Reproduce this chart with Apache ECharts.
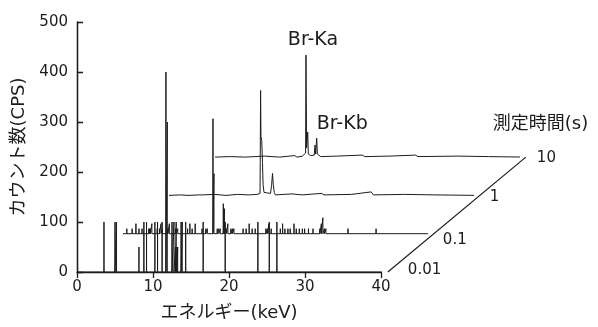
<!DOCTYPE html>
<html>
<head>
<meta charset="utf-8">
<script src="https://cdn.jsdelivr.net/npm/echarts@6/dist/echarts.min.js"></script>
<style>
  html, body { margin: 0; padding: 0; background: #fff; }
  #chart { width: 598px; height: 327px; }
</style>
</head>
<body>
<div id="chart"></div>
<script>
const FONT = '"DejaVu Sans", "Noto Sans CJK JP", sans-serif';
const INK = '#1c1c1c';

// measurement times (front to back)
const timeLabels = ['0.01', '0.1', '1', '10'];
const yTicks = [0, 100, 200, 300, 400, 500];
const xTicks = [0, 10, 20, 30, 40];
const traceEnd = 40.9; // keV, traces run a little past the 40 tick

// 0.01 s : single-count spikes [keV, cps]
const spikes001 = [
  [3.55, 100], [5.0, 100], [5.2, 100], [8.15, 50], [8.8, 100], [9.15, 100],
  [10.25, 100], [10.6, 100], [11.2, 100], [11.7, 400], [11.88, 300],
  [12.5, 100], [12.76, 100], [12.95, 50], [13.05, 100], [13.15, 50], [13.25, 50],
  [13.7, 100], [13.85, 100], [14.3, 100], [16.6, 100], [19.5, 100],
  [23.8, 100], [25.3, 100], [26.3, 100]
];

// 0.1 s : spikes [keV, cps]
const spikes01 = [
  [0.5, 10], [1.2, 10], [1.7, 20], [2.1, 10], [2.5, 10], [3.4, 10], [3.5, 10],
  [3.6, 10], [3.8, 20], [4.5, 10], [4.8, 10], [5.0, 20], [5.2, 10], [5.9, 10],
  [6.1, 20], [6.9, 10], [7.0, 10], [7.2, 10], [8.5, 10], [8.8, 20], [9.1, 10],
  [9.5, 20], [10.4, 10], [10.9, 10], [11.1, 10], [11.84, 230], [11.97, 120],
  [12.4, 10], [12.6, 10], [12.8, 10], [13.2, 60], [13.35, 50], [13.6, 10],
  [13.8, 20], [14.2, 10], [14.4, 10], [14.6, 10], [15.8, 10], [16.2, 10],
  [16.6, 20], [17.0, 10], [17.4, 10], [18.8, 10], [19.0, 10], [19.2, 20],
  [19.5, 10], [20.7, 10], [21.0, 20], [21.3, 10], [21.7, 10], [22.0, 10],
  [22.5, 20], [22.8, 10], [23.2, 10], [23.6, 10], [23.9, 10], [24.4, 10],
  [25.0, 10], [25.9, 10], [26.1, 20], [26.3, 32], [26.5, 10], [26.7, 10],
  [29.6, 10], [33.3, 10]
];

// 1 s : trace profile [keV, cps]
const profile1 = [
  [1.5, 1], [2.5, 0], [4.0, 1], [4.2, 5], [4.4, 1], [6.0, 2], [7.5, 0], [9.0, 2],
  [10.5, 1], [11.6, 2], [11.85, 6], [11.98, 4], [12.05, 210], [12.1, 118],
  [12.2, 110], [12.3, 66], [12.38, 22], [12.5, 6], [12.65, 2], [12.9, 5],
  [13.1, 2], [13.35, 4], [13.5, 20], [13.62, 44], [13.72, 22], [13.85, 6],
  [14.0, 1], [16.2, 3], [17.5, 1], [20.1, 4], [20.4, 1], [24.0, 2], [26.6, 7],
  [26.9, 1], [31.0, 2], [35.0, 1]
];

// 10 s : trace profile [keV, cps]
const profile10 = [
  [2.0, 1], [4.0, 0], [6.5, 2], [8.5, 0], [10.5, 3], [10.8, 0], [11.5, 2],
  [11.6, 6], [11.75, 3], [11.92, 8], [11.97, 204], [12.05, 18], [12.2, 50],
  [12.28, 6], [12.6, 3], [13.05, 4], [13.16, 24], [13.25, 6], [13.38, 38],
  [13.47, 6], [13.7, 4], [13.9, 1], [16.0, 2], [19.4, 4], [19.7, 1],
  [23.0, 2], [26.4, 4], [26.7, 1], [32.0, 2], [36.0, 1]
];

// pseudo-3D step between consecutive traces (px)
const stepX = 46, stepY = 38.3;
const plot = { left: 77, top: 22, width: 304, height: 250 };
const tickPx = 6;

function impulses(spikes) {
  const pts = [[0, 0]];
  spikes.slice().sort((a, b) => a[0] - b[0]).forEach(([k, h]) => {
    pts.push([k, 0], [k, h], [k, 0]);
  });
  pts.push([traceEnd, 0]);
  return pts;
}

function profile(points) {
  return [[0, 0], ...points, [traceEnd, 0]];
}

const traces = [impulses(spikes001), impulses(spikes01), profile(profile1), profile(profile10)];

// axis frame of the front plot, drawn as a marker so it always sits on top
const xSpan = xTicks[xTicks.length - 1] - xTicks[0];
const ySpan = yTicks[yTicks.length - 1] - yTicks[0];
const tickDx = tickPx * xSpan / plot.width;   // tick length in keV
const tickDy = tickPx * ySpan / plot.height;  // tick length in cps
const frameLines = [
  [{ coord: [xTicks[0], yTicks[0]] }, { coord: [xTicks[0], yTicks[yTicks.length - 1]] }],
  ...yTicks.map(v => [{ coord: [xTicks[0], v] }, { coord: [xTicks[0] + tickDx, v] }]),
  ...xTicks.map(t => [{ coord: [t, yTicks[0]] }, { coord: [t, yTicks[0] - tickDy] }])
];

const chart = echarts.init(document.getElementById('chart'), null, { renderer: 'canvas' });

const grids = traces.map((_, i) => ({
  left: plot.left + i * stepX,
  top: plot.top - i * stepY,
  width: plot.width,
  height: plot.height,
  containLabel: false,
  outerBoundsMode: 'none'
}));

const xAxes = traces.map((_, i) => ({
  type: 'value', gridIndex: i, min: xTicks[0], max: xTicks[xTicks.length - 1], interval: 10,
  show: i === 0,
  name: i === 0 ? 'エネルギー(keV)' : '',
  nameLocation: 'middle', nameGap: 32,
  nameTextStyle: { fontFamily: FONT, fontSize: 18, color: INK },
  axisLine: { show: true, lineStyle: { color: INK, width: 1.3 } },
  axisTick: { show: true, inside: false, length: tickPx, lineStyle: { color: INK, width: 1.3 } },
  axisLabel: { fontFamily: FONT, fontSize: 15, color: INK, margin: 8 },
  splitLine: { show: false }
}));

const yAxes = traces.map((_, i) => ({
  type: 'value', gridIndex: i, min: yTicks[0], max: yTicks[yTicks.length - 1], interval: 100,
  show: i === 0,
  name: i === 0 ? 'カウント数(CPS)' : '',
  nameLocation: 'middle', nameRotate: 90, nameGap: 49,
  nameTextStyle: { fontFamily: FONT, fontSize: 18, color: INK },
  axisLine: { show: true, lineStyle: { color: INK, width: 1.3 } },
  axisTick: { show: true, inside: true, length: tickPx, lineStyle: { color: INK, width: 1.3 } },
  axisLabel: { fontFamily: FONT, fontSize: 15, color: INK, margin: 9 },
  splitLine: { show: false }
}));

const series = traces.map((data, i) => ({
  type: 'line', name: timeLabels[i], xAxisIndex: i, yAxisIndex: i,
  data, symbol: 'none', showSymbol: false, clip: false,
  lineStyle: { color: INK, width: 1 },
  z: 10 - i,
  markLine: i === 0 ? {
    silent: true, symbol: ['none', 'none'], animation: false,
    label: { show: false },
    lineStyle: { color: INK, width: 1.3, type: 'solid' },
    emphasis: { disabled: true },
    data: frameLines
  } : undefined
}));

chart.setOption({
  animation: false,
  backgroundColor: '#fff',
  grid: grids, xAxis: xAxes, yAxis: yAxes, series
});

// decorations tied to data points of the traces
const ends = traces.map((_, i) => chart.convertToPixel({ seriesIndex: i }, [traceEnd, 0]));
const endLabelOffsets = [[20, -2], [9, 6], [10, 2], [11, 1]];
const kaPeak = chart.convertToPixel({ seriesIndex: 3 }, [11.97, 204]);
const kbPeak = chart.convertToPixel({ seriesIndex: 3 }, [13.38, 38]);

const txt = (x, y, text, size, align) => ({
  type: 'text', x, y, silent: true,
  style: { text, fontFamily: FONT, fontSize: size, fill: INK, align: align || 'left', verticalAlign: 'middle' }
});

const graphic = [
  { type: 'polyline', silent: true, shape: { points: [ends[0], ends[ends.length - 1]] },
    style: { stroke: INK, lineWidth: 1.2, fill: null } },
  ...ends.map((p, i) => txt(p[0] + endLabelOffsets[i][0], p[1] + endLabelOffsets[i][1], timeLabels[i], 15)),
  txt(ends[3][0] - 33, ends[3][1] - 33, '測定時間(s)', 18),
  txt(kaPeak[0] + 7, kaPeak[1] - 15, 'Br-Ka', 19, 'center'),
  txt(kbPeak[0], kbPeak[1] - 14, 'Br-Kb', 19)
];

chart.setOption({ graphic });
</script>
</body>
</html>
